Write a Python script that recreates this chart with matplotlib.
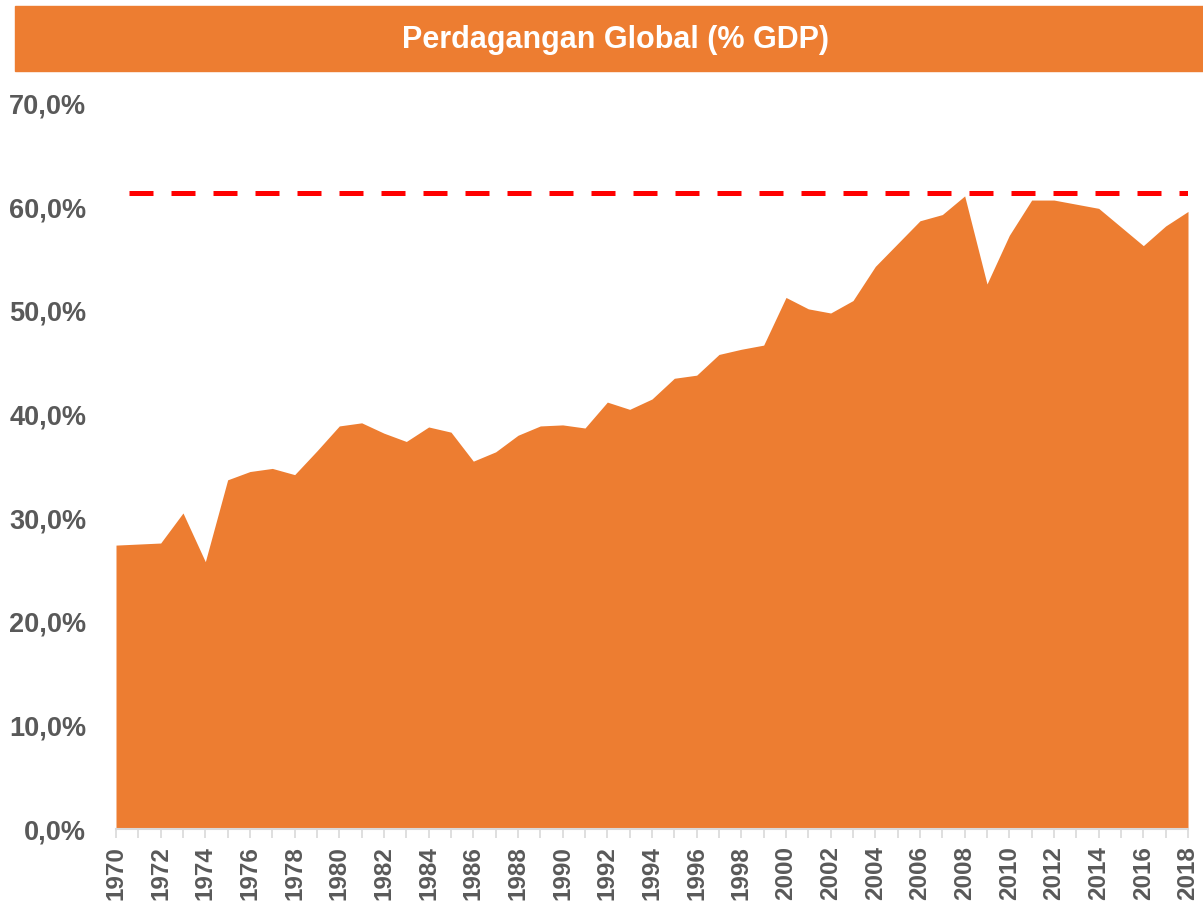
import matplotlib.pyplot as plt
from matplotlib.patches import Rectangle
from matplotlib.ticker import FuncFormatter, MultipleLocator

years = list(range(1970, 2019))
trade_pct = [27.4, 27.5, 27.6, 30.5, 25.8, 33.7, 34.5, 34.8, 34.2, 36.5,
             38.9, 39.2, 38.2, 37.4, 38.8, 38.3, 35.5, 36.4, 38.0, 38.9,
             39.0, 38.7, 41.2, 40.5, 41.5, 43.5, 43.8, 45.8, 46.3, 46.7,
             51.3, 50.2, 49.8, 51.0, 54.3, 56.5, 58.7, 59.3, 61.1, 52.6,
             57.3, 60.7, 60.7, 60.3, 59.9, 58.1, 56.3, 58.2, 59.6]
peak_level = 61.4
title = 'Perdagangan Global (% GDP)'

orange = '#ED7D31'
grey = '#595959'
plt.rcParams['font.family'] = ['Liberation Sans', 'DejaVu Sans']

fig = plt.figure(figsize=(12.03, 9.01), dpi=100)
ax = fig.add_axes([116 / 1203, 1 - 829 / 901, (1188 - 116) / 1203, (829 - 103.7) / 901])

ax.fill_between(years, trade_pct, 0, color=orange, lw=0)
ax.axhline(peak_level, color='#FF0000', lw=3.6, linestyle=(5.8, (4.8, 3.6)))

ax.set_xlim(1970, 2018)
ax.set_ylim(0, 70)
ax.yaxis.set_major_locator(MultipleLocator(10))
ax.yaxis.set_major_formatter(FuncFormatter(lambda v, p: f'{v:.1f}%'.replace('.', ',')))
ax.xaxis.set_major_locator(MultipleLocator(2))
ax.xaxis.set_minor_locator(MultipleLocator(1))

for s in ['top', 'right', 'left']:
    ax.spines[s].set_visible(False)
ax.spines['bottom'].set_color('#D9D9D9')
ax.spines['bottom'].set_linewidth(1.5)

ax.tick_params(axis='y', length=0, pad=21.5, labelsize=19.5, labelcolor=grey)
ax.tick_params(axis='x', which='both', length=6.5, width=1.2, color='#D9D9D9',
               labelsize=17.5, labelcolor=grey, rotation=90, pad=6)
for lab in ax.get_xticklabels() + ax.get_yticklabels():
    lab.set_fontweight('bold')

# title banner
fig.patches.append(Rectangle((15 / 1203, 1 - 71 / 901), 1 - 15 / 1203, 65 / 901,
                             transform=fig.transFigure, color=orange, zorder=0))
fig.text(616 / 1203, 1 - 40 / 901, title, ha='center', va='center',
         color='white', fontsize=22, fontweight='bold')

fig.savefig('out.png', dpi=100)
